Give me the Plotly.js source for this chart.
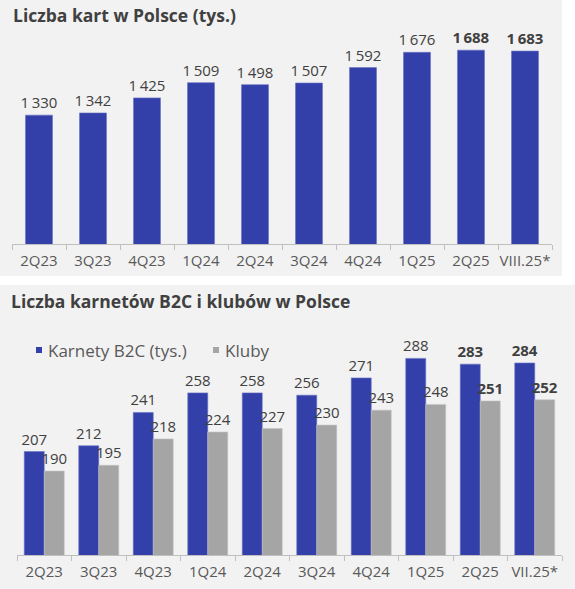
<!DOCTYPE html>
<html><head><meta charset="utf-8">
<script src="https://cdn.plot.ly/plotly-3.0.1.min.js"></script>
<style>html,body{margin:0;padding:0;background:#fff}#c{width:575px;height:589px}</style>
</head><body><div id="c"></div>
<script>
const cats1 = ["2Q23","3Q23","4Q23","1Q24","2Q24","3Q24","4Q24","1Q25","2Q25","VIII.25*"];
const cards = [1330,1342,1425,1509,1498,1507,1592,1676,1688,1683];
const bold1 = [false,false,false,false,false,false,false,false,true,true];

const cats2 = ["2Q23","3Q23","4Q23","1Q24","2Q24","3Q24","4Q24","1Q25","2Q25","VII.25*"];
const passes = [207,212,241,258,258,256,271,288,283,284];
const clubs = [190,195,218,224,227,230,243,248,251,252];
const bold2 = [false,false,false,false,false,false,false,false,true,true];
const seriesNames = ["Karnety B2C (tys.)","Kluby"];

const W=575,H=589;
const px=x=>x/W, py=y=>(H-y)/H;
const fmt=v=>{const s=String(v);return s.length>3?s.slice(0,s.length-3)+"\u2009"+s.slice(-3):s;};
const lab=(vals,b)=>vals.map((v,i)=>b[i]?"<b>"+fmt(v)+"</b>":fmt(v));

const BLUE="#3440a9", GREY="#a5a5a5", TXT="#404040", AX="#bfbfbf", TICK="#595959";
const F="Open Sans, sans-serif";
const BW=0.367;

const data=[
 {type:"bar",x:cats1,y:cards,xaxis:"x",yaxis:"y",width:0.5,text:lab(cards,bold1),textposition:"outside",constraintext:"none",
  textfont:{size:15,color:TXT,family:F},marker:{color:BLUE,line:{color:"#6a73c4",width:0.6}},
  showlegend:false,cliponaxis:false,hoverinfo:"skip"},
 {type:"bar",name:seriesNames[0],x:cats2,y:passes,xaxis:"x2",yaxis:"y2",width:BW,offset:-BW,text:lab(passes,bold2),textposition:"outside",constraintext:"none",
  textfont:{size:15,color:TXT,family:F},marker:{color:BLUE,line:{color:"#6a73c4",width:0.6}},showlegend:false,cliponaxis:false,hoverinfo:"skip"},
 {type:"bar",name:seriesNames[1],x:cats2,y:clubs,xaxis:"x2",yaxis:"y2",width:BW,offset:0,text:lab(clubs,bold2),textposition:"outside",constraintext:"none",
  textfont:{size:15,color:TXT,family:F},marker:{color:GREY,line:{color:"#c4c4c4",width:0.6}},showlegend:false,cliponaxis:false,hoverinfo:"skip"}
];

const xa={type:"category",showline:true,linecolor:AX,linewidth:1,ticks:"outside",tickson:"boundaries",tickangle:0,
  ticklen:5,tickcolor:AX,ticklabelstandoff:3,tickfont:{size:15,color:TICK,family:F},showgrid:false,zeroline:false,fixedrange:true};
const ya={showline:false,showgrid:false,zeroline:false,showticklabels:false,ticks:"",fixedrange:true};

const layout={
 width:W,height:H,margin:{l:0,r:0,t:0,b:0},paper_bgcolor:"#ffffff",plot_bgcolor:"rgba(0,0,0,0)",
 font:{family:F,color:TXT},barmode:"overlay",showlegend:false,
 xaxis:Object.assign({},xa,{domain:[px(12),px(552)],anchor:"y"}),
 yaxis:Object.assign({},ya,{domain:[py(244),py(30)],range:[620,1799],anchor:"x"}),
 xaxis2:Object.assign({},xa,{domain:[px(17),px(562)],anchor:"y2"}),
 yaxis2:Object.assign({},ya,{domain:[py(555),py(340)],range:[117,304],anchor:"x2"}),
 shapes:[
  {type:"rect",xref:"paper",yref:"paper",x0:0,x1:px(562),y0:py(276),y1:1,fillcolor:"#f2f2f2",line:{width:0},layer:"below"},
  {type:"rect",xref:"paper",yref:"paper",x0:0,x1:1,y0:0,y1:py(285),fillcolor:"#f2f2f2",line:{width:0},layer:"below"},
  {type:"rect",xref:"paper",yref:"paper",x0:px(36),x1:px(42),y0:py(353),y1:py(347),fillcolor:BLUE,line:{width:0}},
  {type:"rect",xref:"paper",yref:"paper",x0:px(213),x1:px(219),y0:py(353),y1:py(347),fillcolor:GREY,line:{width:0}}
 ],
 annotations:[
  {text:"<b>Liczba kart w Polsce (tys.)</b>",xref:"paper",yref:"paper",x:px(11),y:py(15),xanchor:"left",yanchor:"middle",
   showarrow:false,font:{size:17.5,color:TXT,family:F}},
  {text:"<b>Liczba karnetów B2C i klubów w Polsce</b>",xref:"paper",yref:"paper",x:px(9),y:py(301),xanchor:"left",yanchor:"middle",
   showarrow:false,font:{size:17.5,color:TXT,family:F}},
  {text:seriesNames[0],xref:"paper",yref:"paper",x:px(46),y:py(350),xanchor:"left",yanchor:"middle",
   showarrow:false,font:{size:17,color:TICK,family:F}},
  {text:seriesNames[1],xref:"paper",yref:"paper",x:px(223),y:py(350),xanchor:"left",yanchor:"middle",
   showarrow:false,font:{size:17,color:TICK,family:F}}
 ]
};
Plotly.newPlot("c",data,layout,{displayModeBar:false,staticPlot:true});
</script></body></html>
